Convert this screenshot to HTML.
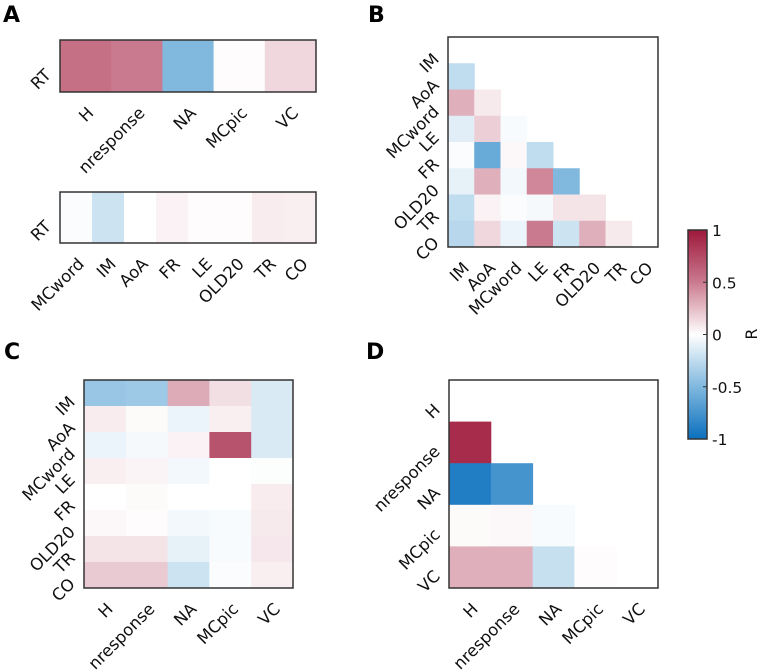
<!DOCTYPE html>
<html><head><meta charset="utf-8"><style>
body{margin:0;background:#fff}
svg{display:block;font-family:"DejaVu Sans","Liberation Sans",sans-serif}
</style></head><body>
<svg id="fig" width="762" height="670" viewBox="0 0 762 670"></svg>
<script>
const NS="http://www.w3.org/2000/svg";
const svg=document.getElementById('fig');
// ---- data ----
const picVars=["H","nresponse","NA","MCpic","VC"];
const wordVars=["IM","AoA","MCword","LE","FR","OLD20","TR","CO"];
const wordVarsA=["MCword","IM","AoA","FR","LE","OLD20","TR","CO"];
const aTopValues=[0.55,0.5,-0.5,0.01,0.15];
const aBottomValues=[-0.02,-0.2,0.0,0.05,0.01,0.01,0.07,0.06];
const bValues=[
[null,null,null,null,null,null,null,null],
[-0.25,null,null,null,null,null,null,null],
[0.3,0.08,null,null,null,null,null,null],
[-0.12,0.18,-0.03,null,null,null,null,null],
[-0.02,-0.6,0.03,-0.25,null,null,null,null],
[-0.1,0.3,-0.05,0.45,-0.5,null,null,null],
[-0.25,0.05,-0.02,-0.04,0.1,0.1,null,null],
[-0.28,0.15,-0.08,0.5,-0.2,0.3,0.08,null]];
const cValues=[
[-0.4,-0.38,0.32,0.12,-0.15],
[0.07,0.02,-0.08,0.06,-0.15],
[-0.08,-0.04,0.05,0.7,-0.15],
[0.06,0.04,-0.05,0,-0.01],
[0,0.02,0,0,0.07],
[0.03,0.01,-0.05,-0.03,0.08],
[0.1,0.1,-0.1,-0.03,0.09],
[0.2,0.2,-0.2,-0.02,0.06]];
const dValues=[
[null,null,null,null,null],
[0.9,null,null,null,null],
[-0.9,-0.75,null,null,null],
[0.02,0.03,-0.03,null,null],
[0.3,0.3,-0.22,0.01,null]];
const cbTicks=[1,0.5,0,-0.5,-1];
const cbTickLabels=["1","0.5","0","-0.5","-1"];
// ---- colormap ----
const stops=[[-1,[10,112,190]],[-0.5,[128,184,222]],[0,[255,255,255]],[0.5,[202,122,142]],[1,[158,24,60]]];
function cmap(v){v=Math.max(-1,Math.min(1,v));
 for(let i=0;i<stops.length-1;i++){const [a,ca]=stops[i],[b,cb]=stops[i+1];
  if(v<=b){const t=(v-a)/(b-a);return `rgb(${ca.map((c,k)=>Math.round(c+(cb[k]-c)*t)).join(',')})`;}}
 return 'rgb(158,24,60)';}
function el(tag,attrs,parent){const e=document.createElementNS(NS,tag);for(const k in attrs)e.setAttribute(k,attrs[k]);(parent||svg).appendChild(e);return e;}
const FS=16.5;
function heat(name,x0,y0,x1,y1,rows,cols,vals,xlabels,ylabels){
 const g=el('g',{});
 
 
 const cw=(x1-x0)/cols.length,ch=(y1-y0)/rows.length;
 const xs=i=>x0+i*cw, ys=j=>y0+j*ch;
 vals.forEach((row,j)=>row.forEach((v,i)=>{if(v===null)return;
  const r=el('rect',{x:xs(i),y:ys(j),width:cw+0.5,height:ch+0.5,fill:cmap(v)},g);
  
  }));
 el('rect',{x:x0,y:y0,width:x1-x0,height:y1-y0,fill:'none',stroke:'#333','stroke-width':1.5},g);
 if(xlabels)cols.forEach((c,i)=>{const ex=xs(i)+cw/2+9,ey=y1+22;
  const t=el('text',{x:ex,y:ey,'text-anchor':'end','font-size':FS,fill:'#111',transform:`rotate(-45 ${ex} ${ey})`},g);t.textContent=c;
  
  });
 if(ylabels)rows.forEach((r,j)=>{const cy=ys(j)+ch/2,tx=x0-8;
  const t=el('text',{x:tx,y:cy+10,'text-anchor':'end','font-size':FS,fill:'#111',transform:`rotate(-45 ${tx} ${cy+10})`},g);t.textContent=r;
  
  });
}
heat('panel-a-top',60,40,316,92,["RT"],picVars,[aTopValues],true,true);
heat('panel-a-bottom',60,192,316,243,["RT"],wordVarsA,[aBottomValues],true,true);
heat('panel-b',448,37,658,247,wordVars,wordVars,bValues,true,true);
heat('panel-c',84,380,293,588,wordVars,picVars,cValues,true,true);
heat('panel-d',449,380,658,588,picVars,picVars,dValues,true,true);
// panel letters
[["A",3,22],["B",368,22],["C",4,359],["D",366,359]].forEach(([l,x,y])=>{
 const t=el('text',{x:x,y:y,'font-size':22,'font-weight':'bold',fill:'#000'});t.textContent=l;
 
 });
// colorbar
const cb=el('g',{});


const defs=el('defs',{},cb);
const lg=el('linearGradient',{id:'cbg',x1:0,y1:0,x2:0,y2:1},defs);
for(let k=0;k<=20;k++){const v=1-k/10;el('stop',{offset:k/20,'stop-color':cmap(v)},lg);}
const cbTop=230,cbBot=439,cbX=688,cbW=19;
const cy=v=>cbTop+(1-v)/2*(cbBot-cbTop);
el('rect',{x:cbX,y:cbTop,width:cbW,height:cbBot-cbTop,fill:'url(#cbg)',stroke:'#333','stroke-width':1.5},cb);
cbTicks.forEach((v,i)=>{
 el('line',{x1:cbX+cbW-4,x2:cbX+cbW,y1:cy(v),y2:cy(v),stroke:'#333'},cb);
 const t=el('text',{x:cbX+cbW+5,y:cy(v)+6,'font-size':15.5,fill:'#111'},cb);t.textContent=cbTickLabels[i];
 
 });
const rl=el('text',{x:757,y:334,'font-size':16,fill:'#111','text-anchor':'middle',transform:'rotate(-90 757 334)'},cb);rl.textContent='R';


</script>
</body></html>
